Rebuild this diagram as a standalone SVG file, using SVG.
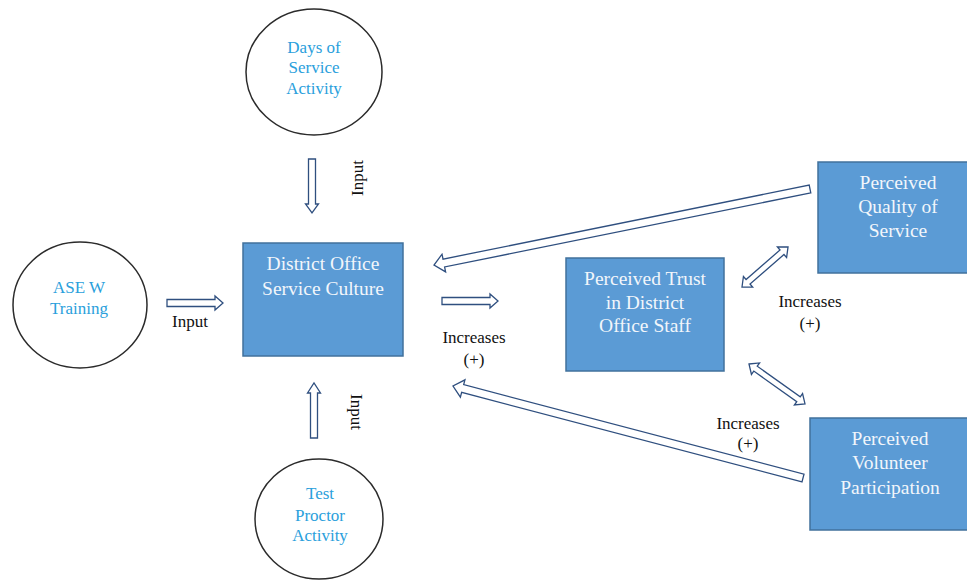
<svg xmlns="http://www.w3.org/2000/svg" width="967" height="580" viewBox="0 0 967 580">
<defs>
<style>
.circ{fill:#ffffff;stroke:#2b2b2b;stroke-width:1.5}
.box{fill:#5b9bd5;stroke:#41719c;stroke-width:1.5}
text{font-family:"Liberation Serif","DejaVu Serif","Times New Roman",serif}
.ct{font-size:17px;fill:#2aa0dc;text-anchor:middle}
.bt{font-size:19.5px;fill:#f2f6fb;text-anchor:middle}
.lb{font-size:17px;fill:#111111;text-anchor:middle}
.arr{fill:#ffffff;stroke:#2f4f7f;stroke-width:1.3;stroke-linejoin:miter}
</style>
</defs>
<rect width="967" height="580" fill="#ffffff"/>

<g id="connectors">
<path class="arr" d="M167,299.5 L215,299.5 L215,296 L223,303 L215,310 L215,306.5 L167,306.5 Z"/>
<path class="arr" d="M442,297.5 L490,297.5 L490,294 L498,301 L490,308 L490,304.5 L442,304.5 Z"/>
<path class="arr" d="M308.5,159 L308.5,204 L305.5,204 L312,213 L318.5,204 L315.5,204 L315.5,159 Z"/>
<path class="arr" d="M310.5,438 L310.5,393 L307.5,393 L314,383 L320.5,393 L317.5,393 L317.5,438 Z"/>
<path class="arr" transform="translate(810,189) rotate(168.57)" d="M0,-4 L373.6,-4 L373.6,-9 L383.6,0 L373.6,9 L373.6,4 L0,4 Z"/>
<path class="arr" transform="translate(803,478) rotate(194.73)" d="M0,-4 L351.9,-4 L351.9,-9 L361.9,0 L351.9,9 L351.9,4 L0,4 Z"/>
<path class="arr" transform="translate(742,287) rotate(-41)" d="M0,0 L8,-7 L8,-3 L53,-3 L53,-7 L61,0 L53,7 L53,3 L8,3 L8,7 Z"/>
<path class="arr" transform="translate(749,364) rotate(35.5)" d="M0,0 L8,-7 L8,-3 L60.8,-3 L60.8,-7 L68.8,0 L60.8,7 L60.8,3 L8,3 L8,7 Z"/>
<text class="lb" x="190" y="327">Input</text>
<text class="lb" transform="translate(358,178) rotate(-90)" y="5">Input</text>
<text class="lb" transform="translate(356,412) rotate(90)" y="5">Input</text>
<text class="lb" x="474" y="343">Increases</text>
<text class="lb" x="474" y="365">(+)</text>
<text class="lb" x="810" y="307">Increases</text>
<text class="lb" x="810" y="329">(+)</text>
<text class="lb" x="748" y="429">Increases</text>
<text class="lb" x="748" y="449">(+)</text>
</g>

<g id="days">
<ellipse class="circ" cx="314" cy="72" rx="68" ry="63"/>
<text class="ct" x="314" y="53">Days of</text>
<text class="ct" x="314" y="73">Service</text>
<text class="ct" x="314" y="94">Activity</text>
</g>

<g id="asew">
<ellipse class="circ" cx="80" cy="305" rx="67" ry="63"/>
<text class="ct" x="79" y="293">ASE W</text>
<text class="ct" x="79" y="314">Training</text>
</g>

<g id="proctor">
<ellipse class="circ" cx="319" cy="519" rx="64" ry="60"/>
<text class="ct" x="320" y="499">Test</text>
<text class="ct" x="320" y="521">Proctor</text>
<text class="ct" x="320" y="541">Activity</text>
</g>

<g id="district">
<rect class="box" x="243" y="243" width="160" height="113"/>
<text class="bt" x="323" y="270">District Office</text>
<text class="bt" x="323" y="295">Service Culture</text>
</g>

<g id="trust">
<rect class="box" x="566" y="258" width="158" height="113"/>
<text class="bt" x="645" y="285">Perceived Trust</text>
<text class="bt" x="645" y="309">in District</text>
<text class="bt" x="645" y="332">Office Staff</text>
</g>

<g id="quality">
<rect class="box" x="818" y="162" width="160" height="111"/>
<text class="bt" x="898" y="189">Perceived</text>
<text class="bt" x="898" y="213">Quality of</text>
<text class="bt" x="898" y="237">Service</text>
</g>

<g id="volunteer">
<rect class="box" x="810" y="418" width="170" height="112"/>
<text class="bt" x="890" y="445">Perceived</text>
<text class="bt" x="890" y="469">Volunteer</text>
<text class="bt" x="890" y="494">Participation</text>
</g>
</svg>
